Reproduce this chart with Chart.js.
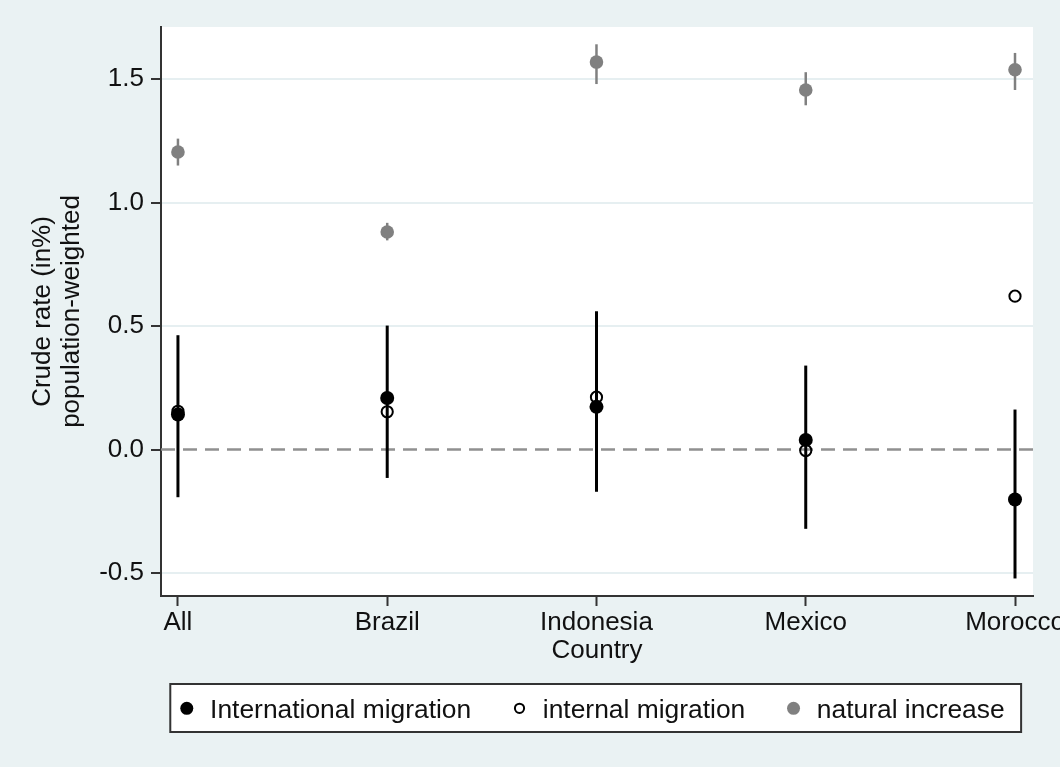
<!DOCTYPE html>
<html>
<head>
<meta charset="utf-8">
<title>Crude rates by country</title>
<script src="https://cdn.jsdelivr.net/npm/chart.js@4/dist/chart.umd.min.js"></script>
<style>
  html, body { margin: 0; padding: 0; background: #eaf2f3; }
  #wrap { position: relative; width: 1060px; height: 767px; }
  canvas { display: block; }
</style>
</head>
<body>
<div id="wrap"><canvas id="chart" width="1060" height="767"></canvas></div>
<script>
// Countries along the x axis
const countries = ['All', 'Brazil', 'Indonesia', 'Mexico', 'Morocco'];

// International migration: point estimate and confidence interval
const intlMigration = [0.142, 0.209, 0.173, 0.039, -0.202];
const intlLow = [-0.193, -0.115, -0.171, -0.321, -0.522];
const intlHigh = [0.463, 0.502, 0.560, 0.340, 0.162];

// Internal migration: point estimate only
const internalMigration = [0.155, 0.153, 0.212, -0.004, 0.621];

// Natural increase: point estimate and confidence interval
const naturalIncrease = [1.205, 0.881, 1.569, 1.456, 1.538];
const naturalLow = [1.150, 0.847, 1.480, 1.394, 1.456];
const naturalHigh = [1.259, 0.918, 1.641, 1.528, 1.606];

// Y axis tick values
const yTicks = [-0.5, 0.0, 0.5, 1.0, 1.5];

const seriesNames = ['International migration', 'internal migration', 'natural increase'];

const FONT = '"Liberation Sans", Arial, Helvetica, sans-serif';
const INK = '#111111';
const AXIS = '#333333';
const GREY = '#808080';

Chart.defaults.font.family = FONT;
Chart.defaults.color = INK;

const toPoints = (arr) => arr.map((v, i) => ({ x: i, y: v }));

// Background: light frame around a white plot region
const plotBackground = {
  id: 'plotBackground',
  beforeDraw(chart) {
    const { ctx, chartArea: a } = chart;
    ctx.save();
    ctx.fillStyle = '#eaf2f3';
    ctx.fillRect(0, 0, chart.width, chart.height);
    ctx.fillStyle = '#ffffff';
    ctx.fillRect(a.left, a.top, a.right - a.left, a.bottom - a.top);
    ctx.restore();
  }
};

// Dashed reference line at zero and vertical confidence-interval spikes
const intervals = {
  id: 'intervals',
  beforeDatasetsDraw(chart) {
    const { ctx, chartArea: a, scales: { x, y } } = chart;
    ctx.save();
    // zero line
    const y0 = y.getPixelForValue(0);
    ctx.strokeStyle = '#909090';
    ctx.lineWidth = 2.5;
    ctx.setLineDash([14, 8]);
    ctx.beginPath();
    ctx.moveTo(a.left, y0);
    ctx.lineTo(a.right, y0);
    ctx.stroke();
    ctx.setLineDash([]);

    const spikes = [
      { lo: naturalLow, hi: naturalHigh, color: GREY, width: 2.5 },
      { lo: intlLow, hi: intlHigh, color: '#000000', width: 3 }
    ];
    spikes.forEach(s => {
      ctx.strokeStyle = s.color;
      ctx.lineWidth = s.width;
      s.lo.forEach((lo, i) => {
        const px = x.getPixelForValue(i);
        ctx.beginPath();
        ctx.moveTo(px, y.getPixelForValue(lo));
        ctx.lineTo(px, y.getPixelForValue(s.hi[i]));
        ctx.stroke();
      });
    });
    ctx.restore();
  }
};

// Boxed legend below the axis title
const boxedLegend = {
  id: 'boxedLegend',
  afterDraw(chart) {
    const { ctx, chartArea: a } = chart;
    const ds = chart.data.datasets;
    ctx.save();
    ctx.font = '26.4px ' + FONT;
    const widths = ds.map(d => ctx.measureText(d.label).width);
    const edge = 16.5, markToText = 23.3, gap = 48.3;
    const total = 2 * edge + widths.reduce((s, w) => s + w, 0) + 3 * markToText + 2 * gap;
    const cx = (a.left + a.right) / 2 - 1.3;
    const left = cx - total / 2;
    const top = a.bottom + 88;
    const h = 48;

    ctx.fillStyle = '#ffffff';
    ctx.fillRect(left, top, total, h);
    ctx.strokeStyle = AXIS;
    ctx.lineWidth = 2;
    ctx.strokeRect(left, top, total, h);

    const my = top + 24.3;
    let mx = left + edge;
    ds.forEach((d, i) => {
      ctx.beginPath();
      if (d.legendHollow) {
        ctx.arc(mx, my, 4.6, 0, Math.PI * 2);
        ctx.strokeStyle = d.pointBorderColor;
        ctx.lineWidth = 2;
        ctx.stroke();
      } else {
        ctx.arc(mx, my, 6.5, 0, Math.PI * 2);
        ctx.fillStyle = d.pointBackgroundColor;
        ctx.fill();
      }
      ctx.fillStyle = INK;
      ctx.textBaseline = 'alphabetic';
      ctx.textAlign = 'left';
      const tx = mx + markToText;
      ctx.fillText(d.label, tx, top + 34.3);
      mx = tx + widths[i] + gap;
    });
    ctx.restore();
  }
};

new Chart(document.getElementById('chart'), {
  type: 'scatter',
  data: {
    datasets: [
      {
        label: seriesNames[0],
        data: toPoints(intlMigration),
        pointRadius: 7,
        pointBorderWidth: 0,
        pointBackgroundColor: '#000000',
        pointBorderColor: '#000000'
      },
      {
        label: seriesNames[1],
        data: toPoints(internalMigration),
        pointRadius: 5.6,
        pointBorderWidth: 2,
        pointBackgroundColor: 'rgba(0,0,0,0)',
        pointBorderColor: '#000000',
        legendHollow: true
      },
      {
        label: seriesNames[2],
        data: toPoints(naturalIncrease),
        pointRadius: 6.8,
        pointBorderWidth: 0,
        pointBackgroundColor: GREY,
        pointBorderColor: GREY
      }
    ]
  },
  options: {
    responsive: false,
    animation: false,
    devicePixelRatio: 1,
    events: [],
    layout: { padding: { left: 0, right: 27, top: 27, bottom: 100.4 } },
    plugins: {
      legend: { display: false },
      tooltip: { enabled: false }
    },
    scales: {
      x: {
        type: 'linear',
        position: 'bottom',
        min: -0.081,
        max: 4.086,
        afterBuildTicks: (s) => { s.ticks = countries.map((_, i) => ({ value: i })); },
        afterFit: (s) => { s.height = 70.6; s.paddingLeft = 0; s.paddingRight = 0; },
        grid: {
          display: true,
          drawOnChartArea: false,
          drawTicks: true,
          tickLength: 10,
          tickColor: AXIS,
          tickWidth: 2
        },
        border: { display: true, color: AXIS, width: 2 },
        ticks: {
          autoSkip: false,
          maxRotation: 0,
          minRotation: 0,
          padding: 1,
          color: INK,
          font: { size: 26 },
          callback: (v) => countries[Math.round(v)]
        },
        title: {
          display: true,
          text: 'Country',
          color: INK,
          font: { size: 26 },
          padding: { top: 0, bottom: 0 }
        }
      },
      y: {
        type: 'linear',
        min: -0.593,
        max: 1.711,
        afterBuildTicks: (s) => { s.ticks = yTicks.map(v => ({ value: v })); },
        afterFit: (s) => { s.width = 161; s.paddingTop = 0; s.paddingBottom = 0; },
        grid: {
          display: true,
          drawOnChartArea: true,
          color: (c) => (c.tick && c.tick.value === 0 ? 'rgba(0,0,0,0)' : '#e6eff1'),
          lineWidth: 2,
          drawTicks: true,
          tickLength: 10,
          tickColor: AXIS,
          tickWidth: 2
        },
        border: { display: true, color: AXIS, width: 2 },
        ticks: {
          padding: 7,
          color: INK,
          font: { size: 26 },
          callback: (v) => Number(v).toFixed(1)
        },
        title: {
          display: true,
          text: ['Crude rate (in%)', 'population-weighted'],
          color: INK,
          font: { size: 26, lineHeight: 1.1 },
          padding: { top: 28.7, bottom: 0 }
        }
      }
    }
  },
  plugins: [plotBackground, intervals, boxedLegend]
});
</script>
</body>
</html>
